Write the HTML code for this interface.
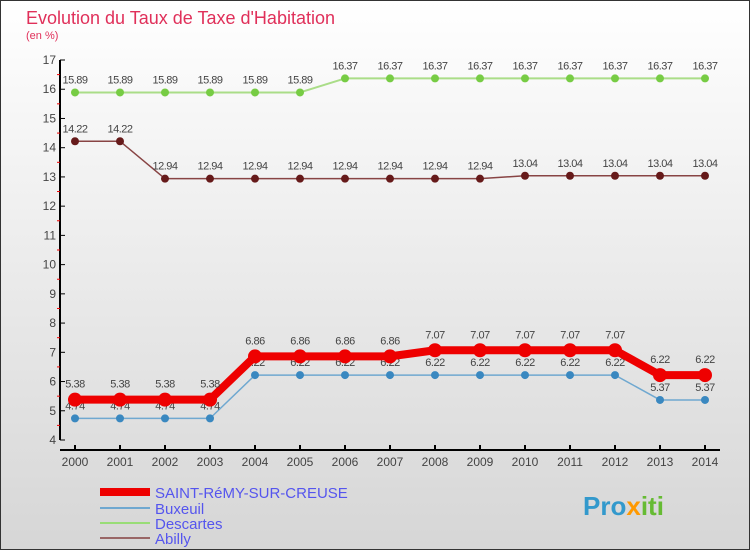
<!DOCTYPE html>
<html><head><meta charset="utf-8"><style>
body{margin:0;}
svg{display:block;font-family:"Liberation Sans",sans-serif;}
</style></head><body>
<svg id="c" width="750" height="550" xmlns="http://www.w3.org/2000/svg">
<defs><linearGradient id="bg" x1="0" y1="0" x2="0" y2="1"><stop offset="0" stop-color="#ffffff"/><stop offset="1" stop-color="#d6d6d6"/></linearGradient></defs>
<rect x="0.5" y="0.5" width="749" height="549" fill="url(#bg)" stroke="#333"/>
<text x="26" y="24" font-size="18" fill="#e0305a">Evolution du Taux de Taxe d'Habitation</text>
<text x="26" y="39" font-size="11" fill="#e0305a">(en %)</text>
<g id="axes"></g>
<g id="series"></g>
<g id="legend">
<line x1="100" y1="492" x2="150" y2="492" stroke="#ee0000" stroke-width="8"/>
<text x="155" y="498" font-size="15" fill="#5555ee">SAINT-RéMY-SUR-CREUSE</text>
<line x1="100" y1="508" x2="150" y2="508" stroke="#6fa8d0" stroke-width="2"/>
<text x="155" y="514" font-size="15" fill="#5555ee">Buxeuil</text>
<line x1="100" y1="523" x2="150" y2="523" stroke="#99dd77" stroke-width="2"/>
<text x="155" y="529" font-size="15" fill="#5555ee">Descartes</text>
<line x1="100" y1="538" x2="150" y2="538" stroke="#996666" stroke-width="2"/>
<text x="155" y="544" font-size="15" fill="#5555ee">Abilly</text>
</g>
<g>
<text x="583" y="515" font-size="26" font-weight="bold" fill="#3399cc">Pro<tspan fill="#ff9900">x</tspan><tspan fill="#66bb33">iti</tspan></text>
</g>
</svg>
<script>
const years=[2000,2001,2002,2003,2004,2005,2006,2007,2008,2009,2010,2011,2012,2013,2014];
const yTicks=[4,5,6,7,8,9,10,11,12,13,14,15,16,17];
const saintRemy=[5.38,5.38,5.38,5.38,6.86,6.86,6.86,6.86,7.07,7.07,7.07,7.07,7.07,6.22,6.22];
const buxeuil=[4.74,4.74,4.74,4.74,6.22,6.22,6.22,6.22,6.22,6.22,6.22,6.22,6.22,5.37,5.37];
const descartes=[15.89,15.89,15.89,15.89,15.89,15.89,16.37,16.37,16.37,16.37,16.37,16.37,16.37,16.37,16.37];
const abilly=[14.22,14.22,12.94,12.94,12.94,12.94,12.94,12.94,12.94,12.94,13.04,13.04,13.04,13.04,13.04];
const NS="http://www.w3.org/2000/svg";
const xs=i=>75+i*45;
const ys=v=>440-(v-4)*(380/13);
function mk(t,a,p){const e=document.createElementNS(NS,t);for(const k in a)e.setAttribute(k,a[k]);p.appendChild(e);return e;}
const ax=document.getElementById('axes');
let l=mk('line',{x1:60,y1:60,x2:60,y2:440,stroke:'#000','stroke-width':2},ax);


l=mk('line',{x1:60,y1:450,x2:720,y2:450,stroke:'#000','stroke-width':2},ax);


yTicks.forEach(v=>{
  mk('line',{x1:60,y1:ys(v),x2:65,y2:ys(v),stroke:'#000'},ax);
  if(v<17) mk('line',{x1:57,y1:ys(v+0.5),x2:60,y2:ys(v+0.5),stroke:'#e00'},ax);
  const t=mk('text',{x:56,y:ys(v)+4,'font-size':12,fill:'#444','text-anchor':'end'},ax);
  t.textContent=v;
  
  
});
years.forEach((yr,i)=>{
  mk('line',{x1:xs(i),y1:445,x2:xs(i),y2:450,stroke:'#000','stroke-width':2},ax);
  const t=mk('text',{x:xs(i),y:466,'font-size':12,fill:'#444','text-anchor':'middle'},ax);
  t.textContent=yr;
  
  
});
const sg=document.getElementById('series');
function draw(data,name,color,dot,w,r,lblOff){
  const g=mk('g',{},sg);
  
  
  const p=mk('polyline',{points:data.map((v,i)=>xs(i)+','+ys(v)).join(' '),fill:'none',stroke:color,'stroke-width':w,'stroke-linejoin':'round'},g);
  
  
  data.forEach((v,i)=>{
    const c=mk('circle',{cx:xs(i),cy:ys(v),r:r,fill:dot},g);
    
    
    const t=mk('text',{x:xs(i),y:ys(v)+lblOff,'font-size':11,fill:'#444','text-anchor':'middle','letter-spacing':'-0.5'},g);
    t.textContent=v.toFixed(2);
    
    
  });
}
draw(descartes,'descartes','#aadd88','#77cc44',2,4,-9);
draw(abilly,'abilly','#884444','#661a1a',1.5,4,-9);
draw(buxeuil,'buxeuil','#6fa8d0','#3a88c0',1.5,4,-9);
draw(saintRemy,'saint-remy','#ee0000','#ee0000',8,7,-12);
</script>
</body></html>
